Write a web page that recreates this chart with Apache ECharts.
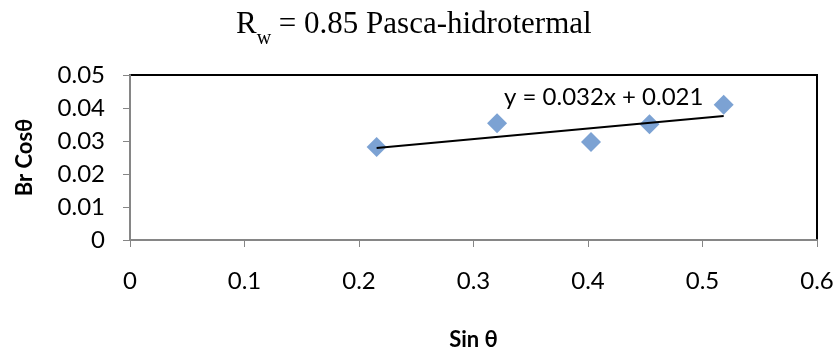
<!DOCTYPE html>
<html>
<head>
<meta charset="utf-8">
<script src="https://cdn.jsdelivr.net/npm/echarts@6/dist/echarts.min.js"></script>
<style>
  html, body { margin: 0; padding: 0; background: #ffffff; }
  #chart { width: 837px; height: 352px; }
</style>
</head>
<body>
<div id="chart"></div>
<script>
// Measured points: Sin θ vs Br Cosθ
const sinTheta = [0.2154, 0.3206, 0.4026, 0.4537, 0.5185];
const brCos = [0.0282, 0.0354, 0.0297, 0.0351, 0.0410];

// Linear trend line coefficients (as printed in the equation)
const slope = 0.032;
const intercept = 0.021;
const equationText = 'y = 0.032x + 0.021';

// Axis ranges and tick steps
const xMin = 0, xMax = 0.6, xStep = 0.1;
const yMin = 0, yMax = 0.05, yStep = 0.01;

const pointData = sinTheta.map((x, i) => [x, brCos[i]]);
const tMin = Math.min(...sinTheta);
const tMax = Math.max(...sinTheta);
const trendData = [[tMin, slope * tMin + intercept], [tMax, slope * tMax + intercept]];

const labelFont = 'Lato';
const chart = echarts.init(document.getElementById('chart'), null, { renderer: 'canvas' });

chart.setOption({
  animation: false,
  backgroundColor: '#ffffff',
  title: {
    left: 236,
    top: 9,
    padding: 0,
    text: '{r|R}{s|w}{r| = 0.85 Pasca-hidrotermal}',
    textStyle: {
      fontWeight: 'normal',
      rich: {
        r: { fontFamily: 'Liberation Serif', fontWeight: 'normal', fontSize: 31, color: '#000', lineHeight: 40, verticalAlign: 'top' },
        s: { fontFamily: 'Liberation Serif', fontWeight: 'normal', fontSize: 20, color: '#000', lineHeight: 12, verticalAlign: 'bottom' }
      }
    }
  },
  grid: {
    left: 130,
    right: 20,
    top: 75,
    bottom: 106,
    show: true,
    borderColor: '#000',
    borderWidth: 2,
    backgroundColor: 'transparent'
  },
  xAxis: {
    type: 'value',
    min: xMin,
    max: xMax,
    interval: xStep,
    name: 'Sin θ',
    nameLocation: 'middle',
    nameGap: 89,
    nameTextStyle: { fontFamily: labelFont, fontWeight: 'bold', fontSize: 22, color: '#000' },
    axisLine: { show: true, onZero: false, lineStyle: { color: '#868686', width: 2 } },
    axisTick: { show: true, inside: false, length: 7, lineStyle: { color: '#868686', width: 1 } },
    axisLabel: { margin: 29, fontFamily: labelFont, fontSize: 24, color: '#000' },
    splitLine: { show: false }
  },
  yAxis: {
    type: 'value',
    min: yMin,
    max: yMax,
    interval: yStep,
    name: 'Br Cosθ',
    nameLocation: 'middle',
    nameRotate: 90,
    nameGap: 94,
    nameTextStyle: { fontFamily: labelFont, fontWeight: 'bold', fontSize: 22, color: '#000' },
    axisLine: { show: true, onZero: false, lineStyle: { color: '#868686', width: 2 } },
    axisTick: { show: true, inside: false, length: 7, lineStyle: { color: '#868686', width: 1 } },
    axisLabel: { margin: 25, fontFamily: labelFont, fontSize: 24, color: '#000' },
    splitLine: { show: false }
  },
  series: [
    {
      type: 'line',
      data: trendData,
      symbol: 'none',
      lineStyle: { color: '#000', width: 2 },
      z: 3
    },
    {
      type: 'scatter',
      data: pointData,
      symbol: 'diamond',
      symbolSize: 20,
      itemStyle: { color: '#5b8bc8' },
      z: 2
    }
  ],
  graphic: [
    {
      type: 'text',
      left: 504,
      top: 85,
      style: { text: equationText, font: '24px Lato', fill: '#000' }
    }
  ]
});
</script>
</body>
</html>
